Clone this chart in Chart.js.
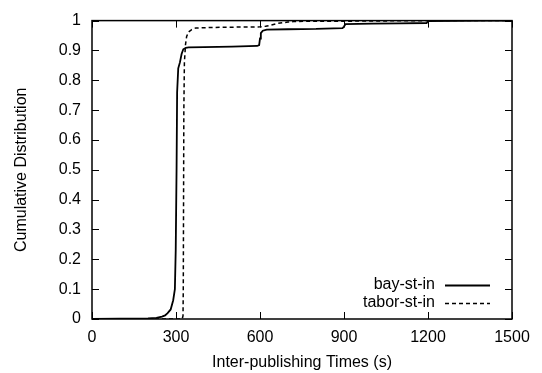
<!DOCTYPE html>
<html>
<head>
<meta charset="utf-8">
<script src="https://cdn.jsdelivr.net/npm/chart.js@4.4.0/dist/chart.umd.min.js"></script>
<style>
    html, body { margin: 0; padding: 0; background: #fff; }
</style>
</head>
<body>
<canvas id="cdfChart" width="542" height="373"></canvas>
<script>
// inter-publishing time CDF
const bayTimes = [0, 100, 200, 230, 250, 261, 270, 281, 290, 296, 299, 302, 304, 308, 314, 320, 326, 335, 345, 400, 500, 590, 597, 600, 603, 610, 624, 700, 800, 895, 900, 905, 1000, 1100, 1195, 1200, 1300, 1400, 1500];
const bayCdf   = [0, 0.001, 0.002, 0.004, 0.008, 0.012, 0.02, 0.032, 0.063, 0.1, 0.23, 0.5, 0.76, 0.84, 0.86, 0.888, 0.904, 0.909, 0.91, 0.911, 0.913, 0.915, 0.918, 0.94, 0.958, 0.966, 0.97, 0.971, 0.972, 0.975, 0.98, 0.988, 0.99, 0.991, 0.992, 0.998, 0.999, 1, 1];

const taborTimes = [0, 322, 325, 326, 327, 328, 330, 334, 338, 345, 356, 370, 420, 500, 600, 620, 640, 660, 680, 700, 720, 800, 900, 1200, 1500];
const taborCdf   = [0, 0, 0.01, 0.1, 0.4, 0.7, 0.86, 0.92, 0.947, 0.962, 0.97, 0.975, 0.977, 0.978, 0.979, 0.981, 0.985, 0.99, 0.993, 0.995, 0.997, 0.998, 0.998, 1, 1];

const xTicks = [0, 300, 600, 900, 1200, 1500];
const yTicks = [0, 0.1, 0.2, 0.3, 0.4, 0.5, 0.6, 0.7, 0.8, 0.9, 1];
const yTickLabels = ['0', '0.1', '0.2', '0.3', '0.4', '0.5', '0.6', '0.7', '0.8', '0.9', '1'];

const FONT = "'Liberation Sans', Arial, Helvetica, sans-serif";

function toPoints(xs, ys) {
    return xs.map((x, i) => ({ x: x, y: ys[i] }));
}

// gnuplot-like frame: full box, inward ticks on all sides, legend inside bottom right
const framePlugin = {
    id: 'frame',
    afterDraw(chart) {
        const ctx = chart.ctx;
        const a = chart.chartArea;
        const xs = chart.scales.x;
        const ys = chart.scales.y;
        const tl = 7;
        ctx.save();
        ctx.strokeStyle = '#000';
        ctx.lineWidth = 1;
        ctx.beginPath();
        xTicks.forEach(v => {
            const px = Math.round(xs.getPixelForValue(v)) + 0.5;
            ctx.moveTo(px, a.bottom); ctx.lineTo(px, a.bottom - tl);
            ctx.moveTo(px, a.top); ctx.lineTo(px, a.top + tl);
        });
        yTicks.forEach(v => {
            const py = Math.round(ys.getPixelForValue(v)) + 0.5;
            ctx.moveTo(a.left, py); ctx.lineTo(a.left + tl, py);
            ctx.moveTo(a.right, py); ctx.lineTo(a.right - tl, py);
        });
        ctx.stroke();

        ctx.lineWidth = 1.5;
        ctx.strokeRect(a.left, a.top, a.right - a.left, a.bottom - a.top);

        // legend
        ctx.font = '16px ' + FONT;
        ctx.fillStyle = '#000';
        ctx.textAlign = 'right';
        ctx.textBaseline = 'middle';
        chart.data.datasets.forEach((ds, i) => {
            const y = a.bottom - 34 + i * 18;
            ctx.fillText(ds.label, a.right - 77, y);
            ctx.beginPath();
            ctx.setLineDash(ds.borderDash || []);
            ctx.lineWidth = ds.borderWidth;
            ctx.moveTo(a.right - 67, y + 0.5);
            ctx.lineTo(a.right - 22, y + 0.5);
            ctx.stroke();
        });
        ctx.restore();
    }
};

const ctx = document.getElementById('cdfChart').getContext('2d');
new Chart(ctx, {
    type: 'line',
    data: {
        datasets: [{
            label: 'bay-st-in',
            data: toPoints(bayTimes, bayCdf),
            borderColor: '#000',
            borderWidth: 1.8,
            pointRadius: 0,
            tension: 0
        }, {
            label: 'tabor-st-in',
            data: toPoints(taborTimes, taborCdf),
            borderColor: '#000',
            borderWidth: 1.5,
            borderDash: [4, 3],
            pointRadius: 0,
            tension: 0
        }]
    },
    options: {
        responsive: false,
        devicePixelRatio: 1,
        animation: false,
        layout: { padding: { top: 16, right: 30, left: 0, bottom: 0 } },
        plugins: {
            legend: { display: false },
            tooltip: { enabled: false }
        },
        scales: {
            x: {
                type: 'linear',
                min: 0,
                max: 1500,
                afterBuildTicks: scale => { scale.ticks = xTicks.map(v => ({ value: v })); },
                afterFit: scale => { scale.height = 54; },
                grid: { display: false, drawTicks: false },
                border: { display: false },
                ticks: {
                    padding: 9,
                    color: '#000',
                    font: { family: FONT, size: 16 },
                    maxRotation: 0,
                    callback: v => String(v)
                },
                title: {
                    display: true,
                    text: 'Inter-publishing Times (s)',
                    color: '#000',
                    font: { family: FONT, size: 16 },
                    padding: { top: 0, bottom: 1 }
                }
            },
            y: {
                type: 'linear',
                min: 0,
                max: 1,
                afterBuildTicks: scale => { scale.ticks = yTicks.map(v => ({ value: v })); },
                afterFit: scale => { scale.width = 92; },
                grid: { display: false, drawTicks: false },
                border: { display: false },
                ticks: {
                    padding: 11,
                    color: '#000',
                    font: { family: FONT, size: 16 },
                    callback: (v, i) => yTickLabels[i]
                },
                title: {
                    display: true,
                    text: 'Cumulative Distribution',
                    color: '#000',
                    font: { family: FONT, size: 16 },
                    padding: { top: 12, bottom: 0 }
                }
            }
        }
    },
    plugins: [framePlugin]
});
</script>
</body>
</html>
